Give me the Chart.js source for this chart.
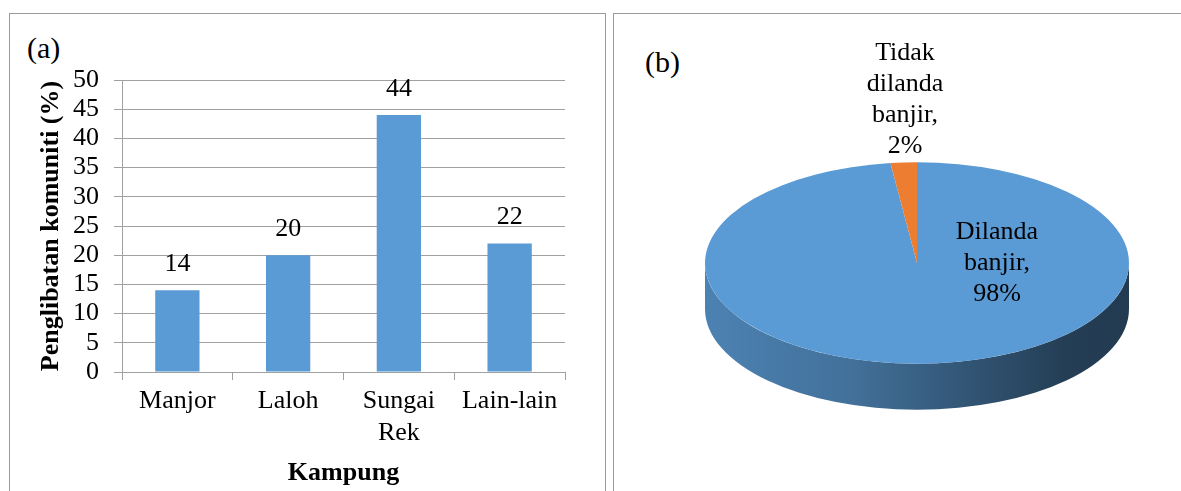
<!DOCTYPE html>
<html lang="ms">
<head>
<meta charset="UTF-8">
<title>Penglibatan komuniti dan banjir</title>
<script src="https://cdn.jsdelivr.net/npm/chart.js"></script>
<style>
  html, body { margin: 0; padding: 0; background: #fff; }
  body { width: 1181px; height: 491px; position: relative; overflow: hidden;
         font-family: 'Liberation Serif', 'Times New Roman', serif; }
  .panel { position: absolute; top: 13px; border: 1px solid #9a9a9a; border-bottom: none; }
  #panelA { left: 9px; width: 595px; height: 490px; }
  #panelB { left: 613px; width: 600px; height: 490px; }
  .tag { position: absolute; font-size: 30px; line-height: 32px; color: #000; }
  canvas { position: absolute; top: 0; }
</style>
</head>
<body>
<div class="panel" id="panelA"></div>
<div class="panel" id="panelB"></div>
<div class="tag" style="left:27px; top:32px;">(a)</div>
<div class="tag" style="left:645px; top:46px;">(b)</div>
<canvas id="barChart" width="605" height="491" style="left:0;"></canvas>
<canvas id="pieChart" width="568" height="491" style="left:613px;"></canvas>

<script>
    // (a) bar chart data
    const kampung = ['Manjor', 'Laloh', ['Sungai', 'Rek'], 'Lain-lain'];
    const penglibatan = [14, 20, 44, 22];
    const yMin = 0, yMax = 50, yStep = 5;

    // (b) pie chart data
    const statusBanjir = ['Dilanda banjir', 'Tidak dilanda banjir'];
    const peratusBanjir = [98, 2];

    const serif = "'Liberation Serif', 'Times New Roman', serif";
    Chart.defaults.font.family = serif;
    Chart.defaults.color = '#000';

    const grey = '#a0a0a0';

    // value labels above the bars
    const barLabels = {
        id: 'barLabels',
        afterDatasetsDraw(chart) {
            const ctx = chart.ctx;
            const meta = chart.getDatasetMeta(0);
            ctx.save();
            ctx.font = '26px ' + serif;
            ctx.fillStyle = '#000';
            ctx.textAlign = 'center';
            ctx.textBaseline = 'middle';
            meta.data.forEach((bar, i) => {
                ctx.fillText(penglibatan[i], bar.x, bar.y - 26);
            });
            ctx.restore();
        }
    };

    // darker version of a hex colour, for the pie's side wall
    function shade(hex, f) {
        const n = parseInt(hex.slice(1), 16);
        const r = Math.round(((n >> 16) & 255) * f);
        const g = Math.round(((n >> 8) & 255) * f);
        const b = Math.round((n & 255) * f);
        return 'rgb(' + r + ',' + g + ',' + b + ')';
    }

    // squash the pie into a tilted disc and give it a side wall
    const pie3d = {
        id: 'pie3d',
        beforeDatasetsDraw(chart, args, opts) {
            const ctx = chart.ctx;
            const meta = chart.getDatasetMeta(0);
            const colours = chart.data.datasets[0].backgroundColor;
            const cyT = opts.centerY, sy = opts.tilt, depth = opts.depth;
            meta.data.forEach((arc, i) => {
                const rx = arc.outerRadius, ry = rx * sy, cx = arc.x;
                [[0, Math.PI], [2 * Math.PI, 3 * Math.PI], [-2 * Math.PI, -Math.PI]].forEach(([lo, hi]) => {
                    const a0 = Math.max(arc.startAngle, lo), a1 = Math.min(arc.endAngle, hi);
                    if (a1 <= a0) return;
                    const g = ctx.createLinearGradient(cx - rx, 0, cx + rx, 0);
                    g.addColorStop(0, shade(colours[i], 0.84));
                    g.addColorStop(0.35, shade(colours[i], 0.72));
                    g.addColorStop(0.6, shade(colours[i], 0.56));
                    g.addColorStop(0.85, shade(colours[i], 0.4));
                    g.addColorStop(1, shade(colours[i], 0.38));
                    ctx.beginPath();
                    ctx.ellipse(cx, cyT, rx, ry, 0, a0, a1);
                    ctx.ellipse(cx, cyT + depth, rx, ry, 0, a1, a0, true);
                    ctx.closePath();
                    ctx.fillStyle = g;
                    ctx.fill();
                });
            });
            const c = meta.data[0];
            ctx.save();
            ctx.translate(c.x, cyT);
            ctx.scale(1, sy);
            ctx.translate(-c.x, -c.y);
        },
        afterDatasetsDraw(chart) {
            chart.ctx.restore();
        }
    };

    // "name, value%" labels
    const pieLabels = {
        id: 'pieLabels',
        afterDraw(chart, args, opts) {
            const ctx = chart.ctx;
            const meta = chart.getDatasetMeta(0);
            ctx.save();
            ctx.font = '26px ' + serif;
            ctx.fillStyle = '#000';
            ctx.textAlign = 'center';
            ctx.textBaseline = 'middle';
            meta.data.forEach((arc, i) => {
                const words = statusBanjir[i].split(' ');
                words[words.length - 1] += ',';
                const lines = words.concat(peratusBanjir[i] + '%');
                const [dx, dy] = opts.offsets[i];
                lines.forEach((t, k) => ctx.fillText(t, arc.x + dx, opts.centerY + dy + k * 31));
            });
            ctx.restore();
        }
    };

    function drawCharts() {
        new Chart(document.getElementById('barChart'), {
            type: 'bar',
            data: {
                labels: kampung,
                datasets: [{
                    data: penglibatan,
                    backgroundColor: '#5b9bd5',
                    barPercentage: 0.4,
                    categoryPercentage: 1
                }]
            },
            options: {
                responsive: false,
                animation: false,
                events: [],
                layout: { padding: { left: 0, right: 40, top: 80, bottom: 0 } },
                plugins: { legend: { display: false }, tooltip: { enabled: false } },
                scales: {
                    x: {
                        grid: { drawOnChartArea: false, color: grey, tickLength: 8 },
                        border: { color: grey },
                        ticks: { font: { size: 26 }, padding: 6, maxRotation: 0, autoSkip: false },
                        title: { display: true, text: 'Kampung', font: { size: 26, weight: 'bold' }, padding: { top: 0, bottom: 2 } },
                        afterFit(scale) { scale.height = 119; }
                    },
                    y: {
                        min: yMin,
                        max: yMax,
                        ticks: { stepSize: yStep, autoSkip: false, font: { size: 26 }, padding: 15 },
                        grid: { color: grey, tickLength: 8 },
                        border: { color: grey },
                        title: { display: true, text: 'Penglibatan komuniti (%)', font: { size: 26, weight: 'bold' }, padding: { top: 36, bottom: 0 } },
                        afterFit(scale) { scale.width = 122; }
                    }
                }
            },
            plugins: [barLabels]
        });

        new Chart(document.getElementById('pieChart'), {
            type: 'pie',
            data: {
                labels: statusBanjir,
                datasets: [{
                    data: peratusBanjir,
                    backgroundColor: ['#5b9bd5', '#ed7d31'],
                    borderWidth: 0,
                    radius: 212,
                    clip: false
                }]
            },
            options: {
                responsive: false,
                animation: false,
                events: [],
                layout: { padding: { left: 40, right: 0, top: 0, bottom: 0 } },
                plugins: {
                    legend: { display: false },
                    tooltip: { enabled: false },
                    pie3d: { centerY: 263, tilt: 0.475, depth: 46 },
                    pieLabels: { centerY: 263, offsets: [[80, -31], [-12, -210]] }
                }
            },
            plugins: [pie3d, pieLabels]
        });
    }

    // make sure the serif faces are ready before the canvases draw text
    Promise.all([
        document.fonts.load("26px 'Liberation Serif'"),
        document.fonts.load("bold 26px 'Liberation Serif'")
    ]).then(drawCharts, drawCharts);
</script>
</body>
</html>
